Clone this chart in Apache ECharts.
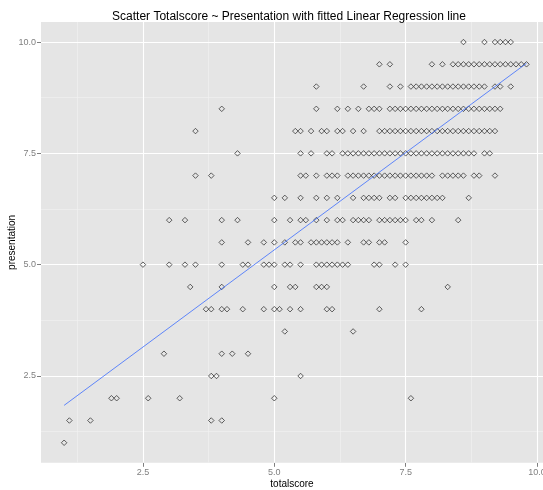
<!DOCTYPE html>
<html>
<head>
<meta charset="utf-8">
<script src="https://cdn.jsdelivr.net/npm/echarts@6/dist/echarts.min.js"></script>
<style>
  html, body { margin: 0; padding: 0; background: #ffffff; }
  #chart { width: 543px; height: 490px; }
</style>
</head>
<body>
<div id="chart"></div>
<script>
// totalscore values observed at each presentation score
const presentationLevels = [10.0, 9.5, 9.0, 8.5, 8.0, 7.5, 7.0, 6.5, 6.0, 5.5, 5.0, 4.5, 4.0, 3.5, 3.0, 2.5, 2.0, 1.5, 1.0];

const scoresAt10_0 = [8.6, 9.0, 9.2, 9.3, 9.4, 9.5];
const scoresAt9_5 = [7.0, 7.2, 8.0, 8.2, 8.4, 8.5, 8.6, 8.7, 8.8, 8.9, 9.0, 9.1, 9.2, 9.3, 9.4, 9.5, 9.6, 9.7, 9.8];
const scoresAt9_0 = [5.8, 6.7, 7.2, 7.4, 7.6, 7.7, 7.8, 7.9, 8.0, 8.1, 8.2, 8.3, 8.4, 8.5, 8.6, 8.7, 8.8, 8.9, 9.0, 9.2, 9.3, 9.5];
const scoresAt8_5 = [4.0, 5.8, 6.2, 6.4, 6.6, 6.8, 6.9, 7.0, 7.2, 7.3, 7.4, 7.5, 7.6, 7.7, 7.8, 7.9, 8.0, 8.1, 8.2, 8.3, 8.4, 8.5, 8.6, 8.7, 8.8, 8.9, 9.0, 9.1, 9.2, 9.3];
const scoresAt8_0 = [3.5, 5.4, 5.5, 5.7, 5.9, 6.0, 6.2, 6.3, 6.5, 6.7, 7.0, 7.1, 7.2, 7.3, 7.4, 7.5, 7.6, 7.7, 7.8, 7.9, 8.0, 8.1, 8.2, 8.3, 8.4, 8.5, 8.6, 8.7, 8.8, 8.9, 9.0, 9.1, 9.2];
const scoresAt7_5 = [4.3, 5.5, 5.7, 6.0, 6.1, 6.3, 6.4, 6.5, 6.6, 6.7, 6.8, 6.9, 7.0, 7.1, 7.2, 7.3, 7.4, 7.5, 7.6, 7.7, 7.8, 7.9, 8.0, 8.1, 8.2, 8.3, 8.4, 8.5, 8.6, 8.7, 8.8, 9.0, 9.1];
const scoresAt7_0 = [3.5, 3.8, 5.5, 5.6, 5.8, 6.0, 6.1, 6.2, 6.4, 6.5, 6.6, 6.7, 6.8, 6.9, 7.0, 7.1, 7.2, 7.3, 7.4, 7.5, 7.6, 7.7, 7.8, 7.9, 8.0, 8.2, 8.3, 8.4, 8.5, 8.6, 8.8, 8.9, 9.2];
const scoresAt6_5 = [5.0, 5.2, 5.5, 5.8, 6.0, 6.2, 6.5, 6.7, 6.8, 6.9, 7.0, 7.2, 7.3, 7.5, 7.6, 7.7, 7.8, 7.9, 8.0, 8.1, 8.2, 8.7];
const scoresAt6_0 = [3.0, 3.3, 4.0, 4.3, 5.0, 5.3, 5.5, 5.6, 5.8, 6.0, 6.2, 6.3, 6.5, 6.6, 6.7, 6.8, 7.0, 7.1, 7.2, 7.3, 7.4, 7.5, 7.7, 7.8, 8.0, 8.5];
const scoresAt5_5 = [4.0, 4.5, 4.8, 5.0, 5.2, 5.4, 5.5, 5.7, 5.8, 5.9, 6.0, 6.1, 6.2, 6.4, 6.7, 6.8, 7.0, 7.1, 7.5];
const scoresAt5_0 = [2.5, 3.0, 3.3, 3.5, 4.0, 4.4, 4.5, 4.8, 4.9, 5.0, 5.2, 5.3, 5.5, 5.8, 5.9, 6.0, 6.1, 6.2, 6.3, 6.4, 6.9, 7.0, 7.3, 7.5];
const scoresAt4_5 = [3.4, 4.0, 5.0, 5.3, 5.4, 5.8, 5.9, 6.0, 8.3];
const scoresAt4_0 = [3.7, 3.8, 4.0, 4.1, 4.4, 4.8, 5.0, 5.1, 5.3, 5.5, 6.0, 6.1, 7.0, 7.8];
const scoresAt3_5 = [5.2, 6.5];
const scoresAt3_0 = [2.9, 4.0, 4.2, 4.5];
const scoresAt2_5 = [3.8, 3.9, 5.5];
const scoresAt2_0 = [1.9, 2.0, 2.6, 3.2, 5.0, 7.6];
const scoresAt1_5 = [1.1, 1.5, 3.8, 4.0];
const scoresAt1_0 = [1.0];

const scoreRows = [
  scoresAt10_0, scoresAt9_5, scoresAt9_0, scoresAt8_5, scoresAt8_0, scoresAt7_5, scoresAt7_0,
  scoresAt6_5, scoresAt6_0, scoresAt5_5, scoresAt5_0, scoresAt4_5, scoresAt4_0, scoresAt3_5,
  scoresAt3_0, scoresAt2_5, scoresAt2_0, scoresAt1_5, scoresAt1_0
];

// fitted line: presentation = intercept + slope * totalscore
const fitIntercept = 0.967;
const fitSlope = 0.873;

// axis breaks
const majorBreaks = [2.5, 5.0, 7.5, 10.0];
const minorBreaks = [1.25, 3.75, 6.25, 8.75];

const points = [];
scoreRows.forEach(function (row, i) {
  row.forEach(function (t) { points.push([t, presentationLevels[i]]); });
});

const allScores = points.map(function (p) { return p[0]; });
const xLo = Math.min.apply(null, allScores);
const xHi = Math.max.apply(null, allScores);
const fitLine = [[xLo, fitIntercept + fitSlope * xLo], [xHi, fitIntercept + fitSlope * xHi]];

const gridLines = [].concat(
  minorBreaks.map(function (v) { return { xAxis: v, lineStyle: { color: '#f2f2f2', width: 0.6 } }; }),
  minorBreaks.map(function (v) { return { yAxis: v, lineStyle: { color: '#f2f2f2', width: 0.6 } }; }),
  majorBreaks.map(function (v) { return { xAxis: v, lineStyle: { color: '#ffffff', width: 1.1 } }; }),
  majorBreaks.map(function (v) { return { yAxis: v, lineStyle: { color: '#ffffff', width: 1.1 } }; })
);

const font = 'Liberation Sans, Arial, sans-serif';
const chart = echarts.init(document.getElementById('chart'), null, { renderer: 'canvas' });

chart.setOption({
  animation: false,
  backgroundColor: '#ffffff',
  title: {
    text: 'Scatter Totalscore ~ Presentation with fitted Linear Regression line',
    left: 284,
    top: 6,
    textAlign: 'center',
    textStyle: { color: '#000000', fontSize: 12, fontWeight: 'normal', fontFamily: font }
  },
  grid: {
    left: 41, right: 0, top: 22, bottom: 27.2,
    show: true, backgroundColor: '#e5e5e5', borderWidth: 0,
    containLabel: false,
    outerBoundsMode: 'none'
  },
  xAxis: {
    type: 'value',
    min: 0.56, max: 10.114,
    name: 'totalscore',
    nameLocation: 'middle',
    nameGap: 16,
    nameMoveOverlap: false,
    nameTextStyle: { color: '#000000', fontSize: 10, fontFamily: font },
    axisLine: { show: false },
    splitLine: { show: false },
    axisTick: { show: true, length: 4, customValues: majorBreaks, lineStyle: { color: '#7f7f7f', width: 1 } },
    axisLabel: {
      customValues: majorBreaks, margin: 5, color: '#7f7f7f', fontSize: 9, fontFamily: font,
      formatter: function (v) { return v.toFixed(1); }
    }
  },
  yAxis: {
    type: 'value',
    min: 0.55, max: 10.45,
    name: 'presentation',
    nameLocation: 'middle',
    nameGap: 24,
    nameMoveOverlap: false,
    nameTextStyle: { color: '#000000', fontSize: 10, fontFamily: font },
    axisLine: { show: false },
    splitLine: { show: false },
    axisTick: { show: true, length: 4, customValues: majorBreaks, lineStyle: { color: '#7f7f7f', width: 1 } },
    axisLabel: {
      customValues: majorBreaks, margin: 5, color: '#7f7f7f', fontSize: 9, fontFamily: font,
      formatter: function (v) { return v.toFixed(1); }
    }
  },
  series: [
    {
      name: 'grid',
      type: 'scatter',
      data: [],
      z: 1,
      silent: true,
      markLine: {
        silent: true,
        animation: false,
        symbol: ['none', 'none'],
        label: { show: false },
        emphasis: { disabled: true },
        lineStyle: { type: 'solid' },
        data: gridLines
      }
    },
    {
      name: 'points',
      type: 'scatter',
      z: 10,
      data: points,
      symbol: 'diamond',
      symbolSize: 5.5,
      itemStyle: { color: 'rgba(0,0,0,0)', borderColor: '#262626', borderWidth: 0.9 },
      emphasis: { disabled: true }
    },
    {
      name: 'fit',
      type: 'line',
      z: 11,
      data: fitLine,
      showSymbol: false,
      symbol: 'none',
      lineStyle: { color: '#3366ff', width: 0.9, opacity: 0.85 },
      emphasis: { disabled: true }
    }
  ]
});
</script>
</body>
</html>
